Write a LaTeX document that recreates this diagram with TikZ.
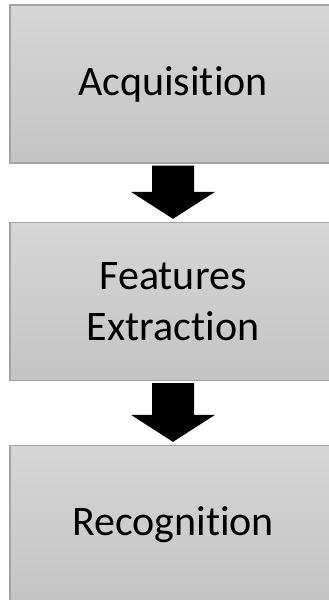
\documentclass[tikz,border=0pt]{standalone}
\usepackage{fontspec}
\setmainfont{Carlito}[Ligatures={NoCommon,NoRequired,NoContextual}]
\usetikzlibrary{calc}
\tikzset{
  stagebox/.style={rectangle, draw=boxedge, line width=1.3pt,
    top color=boxtop, bottom color=boxbottom,
    minimum width=340pt, minimum height=158pt, inner sep=0pt},
  stagetext/.style={align=center, text=black, xshift=-7pt,
    font=\fontsize{42}{51}\selectfont},
}
\definecolor{boxtop}{HTML}{D6D6D6}
\definecolor{boxbottom}{HTML}{C4C4C4}
\definecolor{boxedge}{HTML}{A3A3A3}
% block arrow from the bottom of one box to the top of the next
\newcommand{\blockarrow}[2]{%
  \fill[black]
    ($(#1.south)+(-28pt,-2pt)$) -- ($(#1.south)+(14pt,-2pt)$)
    -- ($(#2.north)+(14pt,30pt)$) -- ($(#2.north)+(35pt,30pt)$)
    -- ($(#2.north)+(-7pt,3pt)$)
    -- ($(#2.north)+(-49pt,30pt)$) -- ($(#2.north)+(-28pt,30pt)$) -- cycle;}
\begin{document}
\begin{tikzpicture}[x=1pt,y=1pt]
  \useasboundingbox (0,0) rectangle (329,-600);
  \clip (0,0) rectangle (329,-600);
  \node[stagebox, label={[stagetext]center:Acquisition}] (acq) at (180,-84) {};
  \node[stagebox, label={[stagetext]center:Features\\Extraction}] (feat) at (180,-301.5) {};
  \node[stagebox, label={[stagetext]center:Recognition}] (rec) at (180,-524.5) {};
  \blockarrow{acq}{feat}
  \blockarrow{feat}{rec}
\end{tikzpicture}
\end{document}
